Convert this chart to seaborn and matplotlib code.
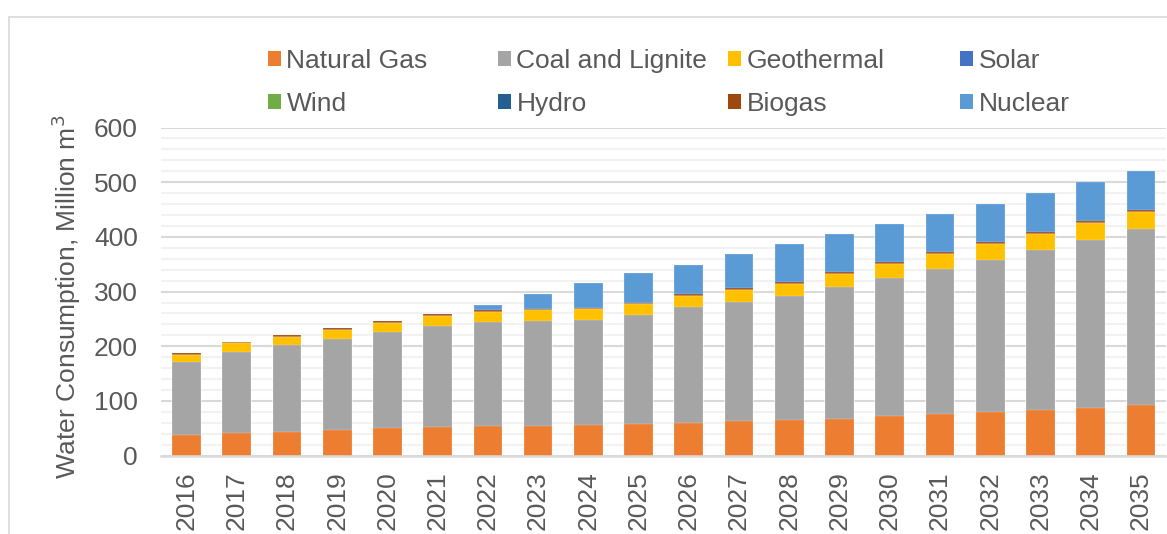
import numpy as np
import pandas as pd
import matplotlib
matplotlib.use("Agg")
import matplotlib.pyplot as plt
from matplotlib.patches import Patch
from matplotlib.lines import Line2D
from matplotlib.ticker import MultipleLocator
import seaborn as sns

years = ["2016", "2017", "2018", "2019", "2020", "2021", "2022", "2023", "2024", "2025",
         "2026", "2027", "2028", "2029", "2030", "2031", "2032", "2033", "2034", "2035"]

natural_gas = [37.7, 42.0, 43.8, 47.4, 50.0, 52.3, 54.0, 55.0, 56.0, 57.8,
               59.6, 62.7, 64.5, 67.5, 71.8, 75.5, 79.1, 82.8, 87.5, 91.9]
coal_lignite = [133.7, 148.4, 158.2, 166.0, 176.0, 185.5, 190.6, 191.0, 192.8, 199.4,
                212.2, 218.2, 227.3, 240.2, 252.8, 266.3, 279.1, 292.9, 307.2, 322.1]
geothermal = [12.3, 15.6, 15.0, 16.4, 17.3, 18.2, 18.2, 20.0, 19.2, 20.1,
              20.7, 21.9, 21.9, 24.2, 25.6, 26.1, 28.4, 29.2, 30.3, 31.7]
solar = [0, 0, 0, 0, 0, 0, 0, 0, 0, 0, 0, 0, 0, 0, 0, 0, 0, 0, 0, 0]
wind = [0, 0, 0, 0, 0, 0, 0, 0, 0, 0, 0, 0, 0, 0, 0, 0, 0, 0, 0, 0]
hydro = [0, 0, 0, 0, 0, 0, 0, 0, 0, 0, 0, 0, 0, 0, 0, 0, 0, 0, 0, 0]
biogas = [3.6, 2.0, 3.0, 3.1, 2.4, 3.7, 3.1, 2.0, 2.6, 2.5,
          2.9, 3.0, 3.1, 3.1, 3.1, 3.6, 3.7, 3.6, 3.6, 4.2]
nuclear = [0, 0, 0, 0, 0, 0, 9.1, 27.0, 44.4, 53.4,
           53.6, 62.1, 71.0, 71.2, 71.1, 71.2, 70.6, 71.9, 71.1, 70.6]

series_names = ["Natural Gas", "Coal and Lignite", "Geothermal", "Solar",
                "Wind", "Hydro", "Biogas", "Nuclear"]
series_values = [natural_gas, coal_lignite, geothermal, solar, wind, hydro, biogas, nuclear]
colors = ["#ED7D31", "#A5A5A5", "#FFC000", "#4472C4",
          "#70AD47", "#255E91", "#9E480E", "#5B9BD5"]

sns.set_theme(style="white")
plt.rcParams["font.family"] = ["Liberation Sans", "DejaVu Sans"]
TXT = "#595959"
FS = 19

W, H = 1167, 534
fig = plt.figure(figsize=(W / 100, H / 100), dpi=100)
ax = fig.add_axes([161.4 / W, 1 - 455.7 / H, (1166 - 161.4) / W, (455.7 - 127.5) / H])

# stacked bars: draw cumulative totals from top layer down
cum = np.cumsum(np.array(series_values, dtype=float), axis=0)
for i in range(len(series_names) - 1, -1, -1):
    df = pd.DataFrame({"year": years, "value": cum[i]})
    sns.barplot(data=df, x="year", y="value", color=colors[i], saturation=1,
                width=0.57, order=years, ax=ax, linewidth=0.3,
                edgecolor=(1, 1, 1, 0.5), zorder=3)

ax.set_ylim(0, 600)
ax.set_xlim(-0.5, len(years) - 0.5)
ax.yaxis.set_major_locator(MultipleLocator(100))
ax.yaxis.set_minor_locator(MultipleLocator(20))
ax.grid(which="major", axis="y", color="#D9D9D9", linewidth=1.5, zorder=0)
ax.grid(which="minor", axis="y", color="#F2F2F2", linewidth=1.5, zorder=0)
ax.grid(axis="x", visible=False)
ax.set_axisbelow(True)
for s in ["left", "right", "top"]:
    ax.spines[s].set_visible(False)
ax.spines["bottom"].set_color("#D9D9D9")
ax.spines["bottom"].set_linewidth(1.8)
ax.spines["bottom"].set_zorder(4)

ax.tick_params(axis="y", which="both", length=0, pad=17, labelsize=FS, labelcolor=TXT)
ax.tick_params(axis="x", length=0, pad=11, labelsize=FS, labelcolor=TXT, rotation=90)
ax.set_xlabel("")
ax.set_ylabel("Water Consumption, Million m$^3$", fontsize=FS, color=TXT)
ax.yaxis.set_label_coords(-0.078, 0.484)

# legend: 4 columns x 2 rows, placed like the original
col_x = [268, 498, 728, 960]
for c in range(4):
    idx = [c, c + 4]
    handles = [Patch(facecolor=colors[j], edgecolor="none") for j in idx]
    labels = [series_names[j] for j in idx]
    leg = fig.legend(handles, labels, loc="upper left",
                     bbox_to_anchor=(col_x[c] / W, 1 - 49 / H),
                     bbox_transform=fig.transFigure, frameon=False,
                     fontsize=FS, handlelength=0.5, handleheight=0.5,
                     handletextpad=0.2, borderpad=0, borderaxespad=0,
                     labelspacing=0.72)
    for t in leg.get_texts():
        t.set_color(TXT)

# outer chart border (top and left edges visible)
fig.add_artist(Line2D([9 / W, 1.0], [1 - 17 / H, 1 - 17 / H], transform=fig.transFigure,
                      color="#D9D9D9", linewidth=1.2))
fig.add_artist(Line2D([9 / W, 9 / W], [1 - 17 / H, 0.0], transform=fig.transFigure,
                      color="#D9D9D9", linewidth=1.2))

fig.savefig("out.png", dpi=100, facecolor="white")
